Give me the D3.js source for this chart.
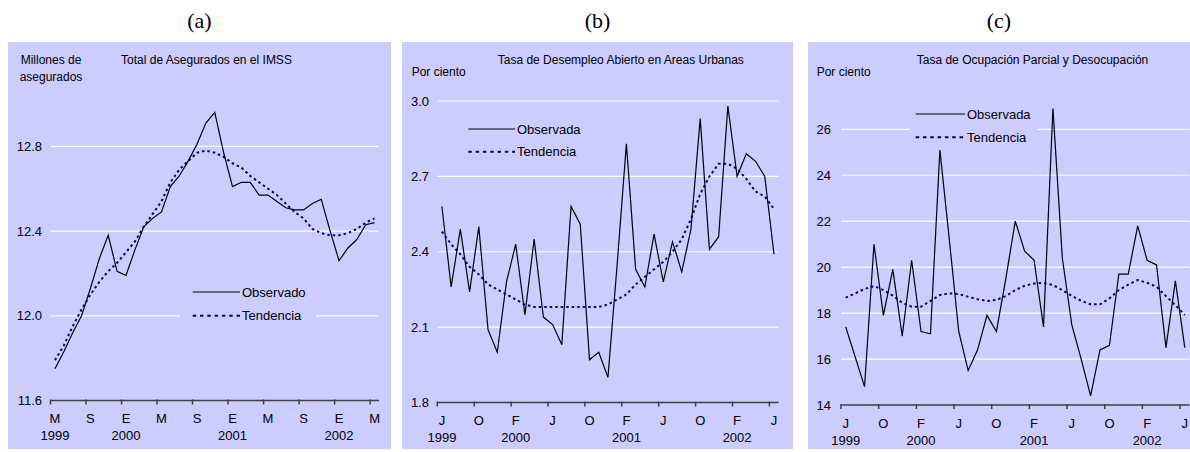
<!DOCTYPE html>
<html>
<head>
<meta charset="utf-8">
<script src="https://cdn.jsdelivr.net/npm/d3@7"></script>
<style>
  body { margin: 0; background: #fff; }
  text { font-family: "Liberation Sans", Arial, sans-serif; fill: #000; }
</style>
</head>
<body>
<svg id="chart" width="1190" height="452"></svg>
<script>
// month letters shown under ticks (every 4 months)
const ticksA = ["M", "S", "E", "M", "S", "E", "M", "S", "E", "M"];
const ticksBC = ["J", "O", "F", "J", "O", "F", "J", "O", "F", "J"];
const years = ["1999", "2000", "2001", "2002"];
const yearIdx = [0, 8, 20, 32];

// (a) Total de Asegurados en el IMSS, may 1999 - may 2002
const obsA = [11.75, 11.83, 11.92, 12.00, 12.13, 12.27, 12.38, 12.21, 12.19, 12.31,
  12.42, 12.46, 12.49, 12.61, 12.66, 12.73, 12.81, 12.91, 12.96, 12.77,
  12.61, 12.63, 12.63, 12.57, 12.57, 12.54, 12.51, 12.50, 12.50, 12.53,
  12.55, 12.40, 12.26, 12.32, 12.36, 12.43, 12.44];
const trendA = [11.79, 11.86, 11.95, 12.03, 12.10, 12.16, 12.21, 12.25, 12.30, 12.35,
  12.42, 12.48, 12.54, 12.63, 12.69, 12.73, 12.77, 12.78, 12.77, 12.75,
  12.72, 12.70, 12.66, 12.63, 12.60, 12.57, 12.53, 12.49, 12.46, 12.41,
  12.39, 12.38, 12.38, 12.39, 12.41, 12.44, 12.46];

// (b) Tasa de Desempleo Abierto, jun 1999 - jun 2002
const obsB = [2.58, 2.26, 2.49, 2.24, 2.50, 2.09, 2.00, 2.28, 2.43, 2.15,
  2.45, 2.14, 2.11, 2.03, 2.58, 2.51, 1.97, 2.00, 1.90, 2.35,
  2.83, 2.33, 2.26, 2.47, 2.28, 2.44, 2.32, 2.49, 2.93, 2.41,
  2.46, 2.98, 2.70, 2.79, 2.76, 2.70, 2.39];
const trendB = [2.48, 2.43, 2.39, 2.34, 2.31, 2.27, 2.25, 2.23, 2.21, 2.19,
  2.18, 2.18, 2.18, 2.18, 2.18, 2.18, 2.18, 2.18, 2.19, 2.21,
  2.23, 2.27, 2.30, 2.33, 2.36, 2.40, 2.45, 2.53, 2.63, 2.70,
  2.75, 2.75, 2.73, 2.69, 2.64, 2.62, 2.57];

// (c) Tasa de Ocupacion Parcial y Desocupacion, jun 1999 - jun 2002
const obsC = [17.4, 16.1, 14.8, 21.0, 17.9, 19.9, 17.0, 20.3, 17.2, 17.1,
  25.1, 21.2, 17.2, 15.5, 16.4, 17.9, 17.2, 19.5, 22.0, 20.7,
  20.3, 17.4, 26.9, 20.4, 17.5, 16.0, 14.4, 16.4, 16.6, 19.7,
  19.7, 21.8, 20.3, 20.1, 16.5, 19.4, 16.5];
const trendC = [18.67, 18.86, 19.05, 19.18, 19.00, 18.76, 18.45, 18.28, 18.28, 18.53,
  18.79, 18.86, 18.83, 18.71, 18.60, 18.53, 18.57, 18.74, 19.00, 19.19,
  19.29, 19.31, 19.22, 19.00, 18.76, 18.53, 18.38, 18.38, 18.64, 19.00,
  19.24, 19.44, 19.32, 19.15, 18.74, 18.35, 17.92];

const bg = "#ccccff";
const svg = d3.select("#chart");

function drawPanel(p) {
  const g = svg.append("g");

  g.append("rect")
    .attr("x", p.box[0]).attr("y", 42)
    .attr("width", p.box[1] - p.box[0]).attr("height", 407)
    .attr("fill", bg);

  g.append("text")
    .attr("x", (p.box[0] + p.box[1]) / 2).attr("y", 28)
    .attr("text-anchor", "middle")
    .style("font-family", "'Liberation Serif', 'Times New Roman', serif")
    .style("font-size", "22px")
    .text(p.letter);

  const idx = d3.range(p.obs.length);
  const x = d3.scaleBand().domain(idx).range(p.xr).padding(0);
  const y = d3.scaleLinear().domain(p.yd).range(p.yr);
  const cx = i => x(i) + x.bandwidth() / 2;

  // gridlines
  g.selectAll(".grid").data(p.yticks.slice(1)).enter().append("line")
    .attr("x1", p.xr[0]).attr("x2", p.xr[1])
    .attr("y1", d => y(d)).attr("y2", d => y(d))
    .attr("stroke", "#fff").attr("stroke-width", 1.2);

  // y tick labels
  g.selectAll(".ylab").data(p.yticks).enter().append("text")
    .attr("x", p.ylabX).attr("y", d => y(d)).attr("dy", "0.35em")
    .attr("text-anchor", "end").style("font-size", "13px")
    .text(d => p.yfmt(d));

  // x axis line and ticks
  const y0 = y(p.yd[0]);
  g.append("line")
    .attr("x1", p.xr[0]).attr("x2", p.xr[1])
    .attr("y1", y0).attr("y2", y0)
    .attr("stroke", "#404040").attr("stroke-width", 1.5);
  const tickIdx = d3.range(0, p.obs.length, 4);
  g.selectAll(".xt").data(tickIdx).enter().append("line")
    .attr("x1", d => x(d)).attr("x2", d => x(d))
    .attr("y1", y0 - 1).attr("y2", y0 + 4)
    .attr("stroke", "#404040").attr("stroke-width", 1.5);
  g.selectAll(".xl").data(tickIdx).enter().append("text")
    .attr("x", d => cx(d)).attr("y", y0 + 18).attr("dy", "0.35em")
    .attr("text-anchor", "middle").style("font-size", "13px")
    .text((d, i) => p.ticks[i]);
  g.selectAll(".yl").data(yearIdx).enter().append("text")
    .attr("x", d => cx(d)).attr("y", y0 + 35).attr("dy", "0.35em")
    .attr("text-anchor", "middle").style("font-size", "13px")
    .text((d, i) => years[i]);

  // titles
  g.append("text")
    .attr("x", p.titleX).attr("y", 60).attr("dy", "0.35em")
    .attr("text-anchor", "middle").style("font-size", "12px")
    .text(p.title);
  p.ylabel.forEach((t, i) => {
    g.append("text")
      .attr("x", p.ylabelX).attr("y", p.ylabelY + i * 17).attr("dy", "0.35em")
      .attr("text-anchor", p.ylabelAnchor).style("font-size", "12px")
      .text(t);
  });

  // lines
  const line = d3.line().x((d, i) => cx(i)).y(d => y(d));
  g.append("path").datum(p.trend).attr("d", line)
    .attr("fill", "none").attr("stroke", "#000080")
    .attr("stroke-width", 2).attr("stroke-dasharray", "2.5,3");
  g.append("path").datum(p.obs).attr("d", line)
    .attr("fill", "none").attr("stroke", "#000")
    .attr("stroke-width", 1.2);

  // legend
  const L = p.legend;
  g.append("rect")
    .attr("x", L.box[0]).attr("y", L.box[1])
    .attr("width", L.box[2]).attr("height", L.box[3])
    .attr("fill", bg);
  const items = [
    { name: p.names[0], stroke: "#000", w: 1.2, dash: null },
    { name: p.names[1], stroke: "#000080", w: 2, dash: "3.5,3.8" }
  ];
  items.forEach((it, i) => {
    const yy = L.y + i * L.gap;
    g.append("line")
      .attr("x1", L.x1).attr("x2", L.x2).attr("y1", yy).attr("y2", yy)
      .attr("stroke", it.stroke).attr("stroke-width", it.w)
      .attr("stroke-dasharray", it.dash);
    g.append("text")
      .attr("x", L.x2 + 2).attr("y", yy).attr("dy", "0.35em")
      .style("font-size", "13px").text(it.name);
  });
}

drawPanel({
  letter: "(a)", box: [8, 391],
  obs: obsA, trend: trendA, ticks: ticksA,
  xr: [50.5, 379], yd: [11.6, 13.2], yr: [400.5, 61.6],
  yticks: [11.6, 12.0, 12.4, 12.8], yfmt: d3.format(".1f"), ylabX: 42,
  title: "Total de Asegurados en el IMSS", titleX: 206.5,
  ylabel: ["Millones de", "asegurados"], ylabelX: 51, ylabelY: 59.5, ylabelAnchor: "middle",
  names: ["Observado", "Tendencia"],
  legend: { box: [180, 280, 136, 48], x1: 192.7, x2: 240, y: 292, gap: 23.7 }
});

drawPanel({
  letter: "(b)", box: [402, 793],
  obs: obsB, trend: trendB, ticks: ticksBC,
  xr: [437.3, 778.6], yd: [1.8, 3.0], yr: [402.5, 101],
  yticks: [1.8, 2.1, 2.4, 2.7, 3.0], yfmt: d3.format(".1f"), ylabX: 429,
  title: "Tasa de Desempleo Abierto en Areas Urbanas", titleX: 620.8,
  ylabel: ["Por ciento"], ylabelX: 411.7, ylabelY: 71.7, ylabelAnchor: "start",
  names: ["Observada", "Tendencia"],
  legend: { box: [458, 117, 120, 46], x1: 468.3, x2: 515, y: 129, gap: 22.7 }
});

drawPanel({
  letter: "(c)", box: [808, 1190],
  obs: obsC, trend: trendC, ticks: ticksBC,
  xr: [841, 1189.5], yd: [14, 26], yr: [405, 129.3],
  yticks: [14, 16, 18, 20, 22, 24, 26], yfmt: d3.format("d"), ylabX: 831,
  title: "Tasa de Ocupación Parcial y Desocupación", titleX: 1032.5,
  ylabel: ["Por ciento"], ylabelX: 816.7, ylabelY: 71.7, ylabelAnchor: "start",
  names: ["Observada", "Tendencia"],
  legend: { box: [910, 102, 127, 46], x1: 915.7, x2: 965, y: 114, gap: 23.3 }
});
</script>
</body>
</html>
